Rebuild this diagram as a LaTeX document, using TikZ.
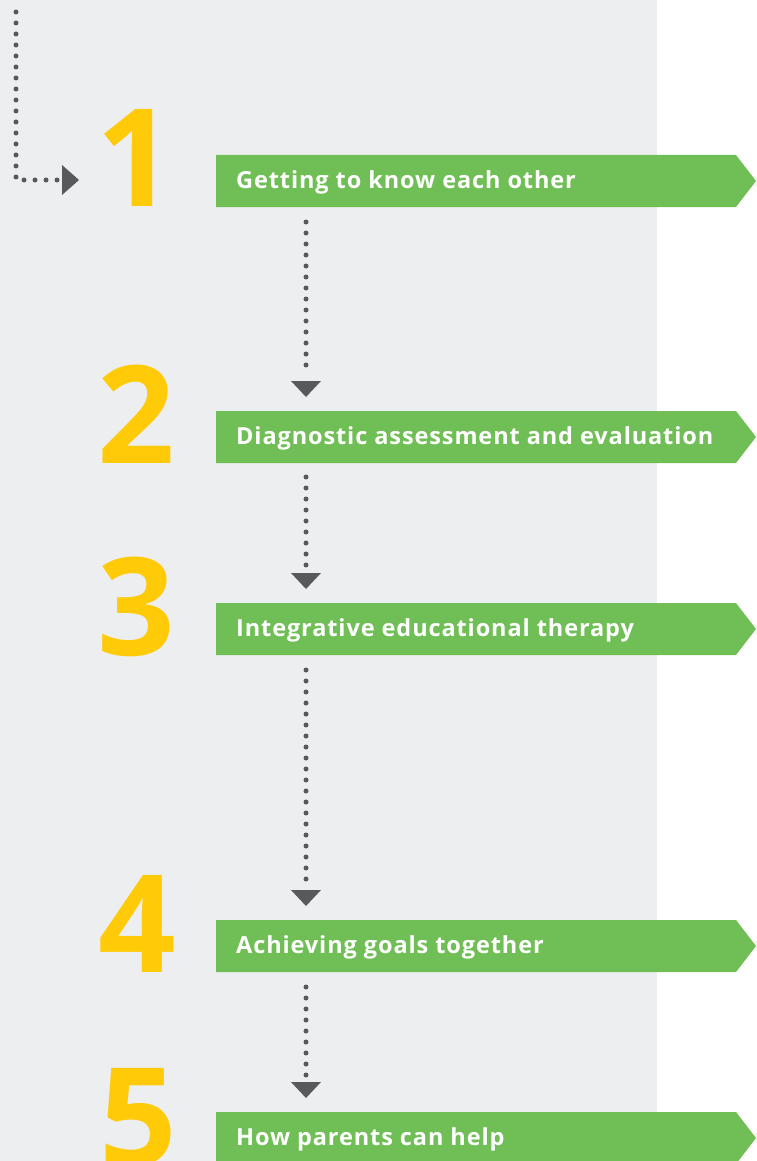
\documentclass[tikz,border=0pt]{standalone}
\usepackage{fontspec}
\setmainfont{Open Sans}
\newfontfamily\labelfont[LetterSpace=3.8]{Open Sans}
\definecolor{bggray}{HTML}{EDEEF0}
\definecolor{bgreen}{HTML}{70BF56}
\definecolor{nyellow}{HTML}{FFCA08}
\definecolor{dgray}{HTML}{58595B}
\begin{document}
\begin{tikzpicture}[x=1pt,y=-1pt,
  banner/.style={fill=bgreen},
  label/.style={anchor=base west,inner sep=0pt,text=white,font=\labelfont\fontsize{23.5}{27}\selectfont\bfseries},
  num/.style={anchor=base,inner sep=0pt,text=nyellow,font=\fontsize{136}{140}\selectfont\bfseries},
  dotline/.style={draw=dgray,line width=5pt,line cap=round,dash pattern=on 0pt off 11pt},
  tip/.style={fill=dgray}]
\useasboundingbox (0,0) rectangle (756,1161);
\fill[bggray] (0,0) rectangle (657,1161);
% banners
\foreach \t/\m in {1/181,2/437,3/629,4/946,5/1138}{
  \fill[banner] (216,\m-26) -- (736,\m-26) -- (756,\m) -- (736,\m+26) -- (216,\m+26) -- cycle;
}
\node[label] (t1) at (236,188.5) {Getting to know each other};
\node[label] (t2) at (236,444.5) {Diagnostic assessment and evaluation};
\node[label] (t3) at (236,636.5) {Integrative educational therapy};
\node[label] (t4) at (236,953.5) {Achieving goals together};
\node[label] (t5) at (236,1145.5) {How parents can help};
% numbers
\node[num] (n1) at (135,207) {1};
\node[num] (n2) at (136,463) {2};
\node[num] (n3) at (136,655) {3};
\node[num] (n4) at (137,972) {4};
\node[num] (n5) at (138,1165) {5};
% start connector
\coordinate (s0) at (16,12);
\coordinate (s1) at (16,180);
\coordinate (s2) at (58,180);
\draw[dotline] (s0) -- (s1) -- (s2);
\fill[tip] (62,165) -- (79,180) -- (62,195) -- cycle;
% step connectors
\foreach \a/\b/\c in {222/375/381,477/567/573,670/884/890,987/1076/1082}{
  \coordinate (a\a) at (306,\a);
  \coordinate (e\a) at (306,\b);
  \draw[dotline] (a\a) -- (e\a);
  \fill[tip] (291,\c) -- (321,\c) -- (306,\c+16) -- cycle;
}
\end{tikzpicture}
\end{document}
